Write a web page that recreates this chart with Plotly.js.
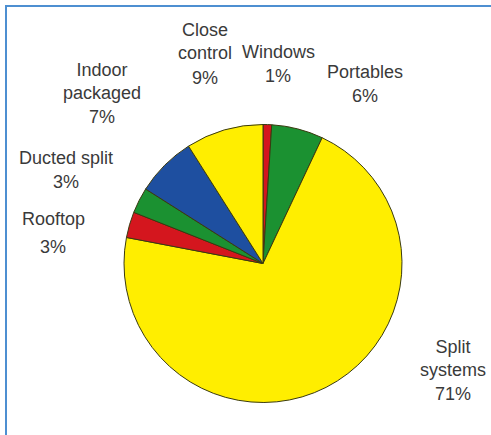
<!DOCTYPE html>
<html>
<head>
<meta charset="utf-8">
<script src="https://cdn.plot.ly/plotly-3.0.1.min.js"></script>
<style>html,body{margin:0;padding:0;background:#fff;}#chart{width:491px;height:435px;}</style>
</head>
<body>
<div id="chart"></div>
<script>
// Data (clockwise from 12 o'clock)
const labels = ["Windows", "Portables", "Split systems", "Rooftop", "Ducted split", "Indoor packaged", "Close control"];
const values = [1, 6, 71, 3, 3, 7, 9];
const colors = ["#D4161E", "#1B9131", "#FFEE00", "#D4161E", "#1B9131", "#1E4FA0", "#FFEE00"];
// Display label text (line-broken as in the reference)
const labelLines = ["Windows", "Portables", "Split<br>systems", "Rooftop", "Ducted split", "Indoor<br>packaged", "Close<br>control"];

const W = 491, H = 435;
// label positions in pixels (layout only): [x centre, y of name block centre, y of percent centre]
const labelPos = [
  [278, 52, 76], [365, 72, 96], [453, 358, 394], [53, 219, 247], [66, 158, 182], [102, 81, 117], [205, 42, 78]
];
const px = (x) => x / W, py = (y) => 1 - y / H;
const font = {family: "Liberation Sans, Arial, sans-serif", size: 18, color: "#3a3a3a"};

const annotations = [];
labels.forEach((l, i) => {
  annotations.push({
    xref: "paper", yref: "paper",
    x: px(labelPos[i][0]), y: py(labelPos[i][1]),
    xanchor: "center", yanchor: "middle",
    showarrow: false, align: "center",
    text: labelLines[i], font: font
  });
  annotations.push({
    xref: "paper", yref: "paper",
    x: px(labelPos[i][0]), y: py(labelPos[i][2]),
    xanchor: "center", yanchor: "middle",
    showarrow: false, align: "center",
    text: values[i] + "%", font: font
  });
});

const cx = 263, cy = 263.5, r = 139;
const trace = {
  type: "pie",
  labels: labels,
  values: values,
  sort: false,
  direction: "clockwise",
  rotation: 0,
  textinfo: "none",
  hoverinfo: "label+percent",
  marker: {colors: colors, line: {color: "#3a3a10", width: 1}},
  domain: {x: [px(cx - r), px(cx + r)], y: [py(cy + r), py(cy - r)]},
  showlegend: false
};

const layout = {
  width: W, height: H,
  margin: {l: 0, r: 0, t: 0, b: 0},
  paper_bgcolor: "#ffffff",
  showlegend: false,
  annotations: annotations,
  shapes: [
    {type: "line", xref: "paper", yref: "paper", x0: px(5), x1: 1, y0: py(6), y1: py(6), line: {color: "#4d8fd1", width: 2}},
    {type: "line", xref: "paper", yref: "paper", x0: px(6), x1: px(6), y0: py(5), y1: 0, line: {color: "#4d8fd1", width: 2}}
  ]
};

Plotly.newPlot("chart", [trace], layout, {displayModeBar: false, staticPlot: true});
</script>
</body>
</html>
